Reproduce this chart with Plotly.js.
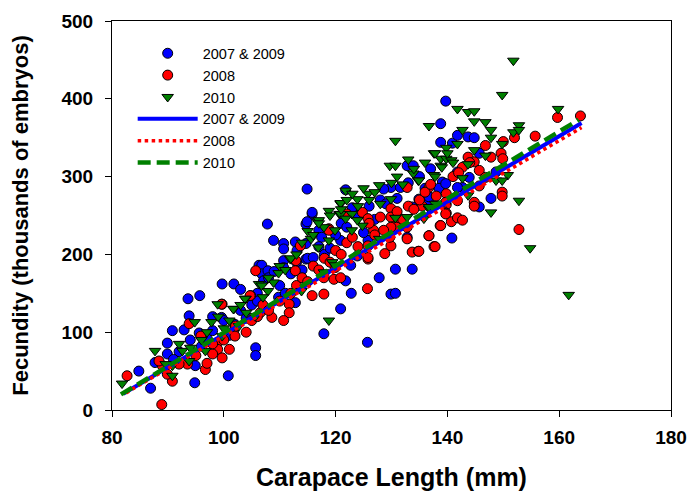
<!DOCTYPE html>
<html>
<head>
<meta charset="utf-8">
<script src="https://cdn.plot.ly/plotly-3.0.1.min.js"></script>
<style>html,body{margin:0;padding:0;background:#fff;}#chart{width:690px;height:493px;}</style>
</head>
<body>
<div id="chart"></div>
<script>
// ---- Data ----
const blueX = [84.8,86.9,87.7,89.9,89.9,90.8,92.9,93.8,93.6,95.7,94.9,94.8,95.6,99.7,101.8,100.8,105.7,105.7,106.3,
107.8,108.9,110.7,110.7,112.8,114.7,114.7,115.8,110.7,110.7,113.1,114.7,106.8,106.8,107.9,109.8,112.8,120.9,99.6,107.1,121.8,
114.9,115.8,114.9,117.9,125.7,130.7,133.7,129.9,130.7,127.8,122.8,140.8,
121.8,129.9,128.6,132.8,133.9,131.6,136.7,134.9,138.8,122.7,125.8,123.9,120.9,117,117.5,132.8,133.7,
139.7,138.8,140.9,141.8,143.7,144.8,145.7,141.8,139.1,142.7,141.8,143.9,148.7,147.8,145.7,136.7,138.5,139.7,
100,103,105,106,108,110,111,112,113,115,117,118,120,121,122,123,124,126,127,128,129,131,133,135,136,137,97,96,98,101,102,104,92,91,94,98,103,106,109,114,116,119,125];
const blueY = [50,28,61,72,86,102,103,121,143,147,57,35,99,162,162,44,80,70,186,
239,218,214,207,216,214,239,252,192,183,205,194,186,175,179,145,138,130,119,166,166,
284,254,242,98,87,181,181,149,150,170,150,221,
283,286,284,314,314,286,269,271,344,186,218,198,218,231,222,222,261,
397,368,343,353,351,350,330,306,293,286,286,299,306,272,261,274,285,291,
115,128,135,150,170,160,150,175,190,195,210,200,225,240,235,260,250,262,245,270,265,272,292,300,285,310,92,82,102,96,110,118,75,65,90,120,155,140,178,180,196,208,228];

const redX = [82.7,88.9,90.8,89.9,89,93.5,96.7,95.9,93.8,99.7,98.9,98.9,98,99.7,101.8,102.1,104.8,105.7,88.4,92,
113.7,112.9,112.8,115.8,117.9,111.7,111.7,110.7,117.9,119.7,118.8,122,104.7,99.6,108.6,106.5,
125.7,128.8,133.7,134.8,137.6,138.7,136.7,125.8,
132.8,129.9,130.9,130.9,130.9,129.9,129.9,128.6,129.9,129.7,132.8,132.8,124.8,125.8,125.8,125.8,126.8,119.9,120.9,117.9,118.8,
159.7,163.8,155.7,146.8,143.7,144.8,142.7,147.8,149.6,149.9,145.7,146.8,145.7,149.8,149.8,139.8,139.8,141.8,144.8,144.8,139.8,140.7,141.8,142.7,138.8,136.7,137.8,134.9,152.8,136.7,135.5,139.7,139.7,
95,97,98,100,101,102,104,105,106,107,108,110,112,113,114,115,116,117,118,119,120,121,122,123,124,126,127,128,131,132,133,134,135,136,137,138,141,142,144,150,152];
const redY = [44,7,37,46,57,59,52,95,111,136,87,78,72,67,102,108,147,179,63,59,
211,192,179,147,149,136,125,115,173,168,233,252,147,136,119,125,
156,201,203,204,210,237,224,194,
286,259,252,242,235,248,235,231,211,222,235,220,254,246,211,196,231,183,170,170,231,
376,378,352,340,325,319,312,325,330,323,308,299,288,280,275,278,264,269,267,262,253,242,247,244,237,224,210,204,232,286,262,267,252,
70,60,85,90,78,95,100,115,120,135,128,140,150,160,170,165,185,180,195,190,205,200,215,222,210,240,225,248,255,245,262,258,270,280,290,275,300,305,318,345,350];

const greenX = [81.8,87.7,90.8,90.8,92,93.8,94.8,96.7,97.8,98.9,99.7,101.8,102.7,103.9,105.7,106.3,92.6,89.6,
118.8,120.9,120.7,116.8,111.9,109.8,106.8,107.9,108.9,103.8,101.7,113.9,115.6,118.8,116.9,119.4,
130.7,129.7,130.7,133.9,134.8,137.6,138.8,127.8,125.8,123.9,121.8,120.9,129.9,137.6,137.9,136.7,135.8,132.8,130.7,127.8,122.9,124.8,123.9,120.9,121.8,122.9,119.9,117,117.9,118.8,119.9,117.9,
151.8,149.8,159.8,152.8,151.8,152.8,141.8,143.7,144.8,144.8,146.8,147.8,142.7,136.7,147.8,149.8,141.8,139.8,144.8,137.8,139.8,140.7,138.8,146.8,143.7,150.8,148.7,149.8,142.7,137.8,143.7,152.8,147.8,137.8,154.8,161.7,134.9,136.7,
94,96,97,99,100,101,103,104,107,108,110,111,112,113,114,115,116,117,119,121,122,123,124,125,126,127,128,130,131,132,133,134,136,139,140,141];
const greenY = [34,76,44,57,85,63,113,76,113,136,95,130,108,143,121,162,76,59,
256,265,252,242,194,176,160,153,164,143,130,153,220,115,209,190,
346,314,314,304,295,330,323,289,278,271,282,266,271,302,265,259,246,248,247,220,252,237,244,252,246,231,231,244,235,218,186,177,
449,405,387,366,357,360,387,383,384,371,370,360,360,365,350,342,342,337,334,330,323,321,314,327,316,302,295,295,298,300,276,269,254,265,208,148,295,261,
80,90,100,120,105,115,135,125,145,170,185,180,195,200,215,230,225,240,250,258,270,278,262,285,270,280,265,292,300,290,322,310,318,312,330,318];

// Regression line end points
const fitBlueX = [82, 164];   const fitBlueY = [21, 369];
const fitRedX = [82.5, 164];  const fitRedY = [22, 363];
const fitGreenX = [81.6, 163.5]; const fitGreenY = [20, 373];

const seriesNames = ['2007 & 2009', '2008', '2010'];
const xTicks = [80, 100, 120, 140, 160, 180];
const yTicks = [0, 100, 200, 300, 400, 500];

const FONT = 'Arial, "Liberation Sans", sans-serif';
const mk = (color, symbol) => ({color: color, size: 10, symbol: symbol, line: {color: '#000', width: 1}});

const traces = [
  {x: blueX, y: blueY, type: 'scatter', mode: 'markers', name: seriesNames[0], marker: mk('#0000ff', 'circle')},
  {x: redX, y: redY, type: 'scatter', mode: 'markers', name: seriesNames[1], marker: mk('#ff0000', 'circle')},
  {x: greenX, y: greenY, type: 'scatter', mode: 'markers', name: seriesNames[2], marker: mk('#008000', 'triangle-down')},
  {x: fitBlueX, y: fitBlueY, type: 'scatter', mode: 'lines', name: seriesNames[0], line: {color: '#0000ff', width: 4, dash: 'solid'}},
  {x: fitRedX, y: fitRedY, type: 'scatter', mode: 'lines', name: seriesNames[1], line: {color: '#ff0000', width: 3.5, dash: 'dot'}},
  {x: fitGreenX, y: fitGreenY, type: 'scatter', mode: 'lines', name: seriesNames[2], line: {color: '#008000', width: 4.5, dash: '13px,6px'}}
];

const axisCommon = {
  showgrid: false, zeroline: false, showline: true, linecolor: '#000', linewidth: 1,
  mirror: true, ticks: 'outside', ticklen: 6, tickcolor: '#000', tickwidth: 1,
  tickfont: {family: FONT, size: 19, color: '#000', weight: 700}
};

const layout = {
  width: 690, height: 493,
  margin: {l: 112, r: 19, t: 21, b: 83},
  paper_bgcolor: '#fff', plot_bgcolor: '#fff',
  font: {family: FONT, color: '#000'},
  showlegend: true,
  legend: {x: 0.037, y: 0.958, xanchor: 'left', yanchor: 'top', bgcolor: 'rgba(0,0,0,0)',
           font: {family: FONT, size: 14.5, color: '#000'}, itemwidth: 60, tracegroupgap: 0},
  xaxis: Object.assign({}, axisCommon, {range: [80, 180], tickvals: xTicks, ticktext: xTicks.map(String),
          ticklabelstandoff: 4,
          title: {text: 'Carapace Length (mm)', font: {family: FONT, size: 25, weight: 700}, standoff: 21}}),
  yaxis: Object.assign({}, axisCommon, {range: [0, 500], tickvals: yTicks, ticktext: yTicks.map(String),
          ticklabelstandoff: 8,
          title: {text: 'Fecundity (thousands of embryos)', font: {family: FONT, size: 22, weight: 700}, standoff: 26}})
};

Plotly.newPlot('chart', traces, layout, {staticPlot: true, displayModeBar: false});
</script>
</body>
</html>
